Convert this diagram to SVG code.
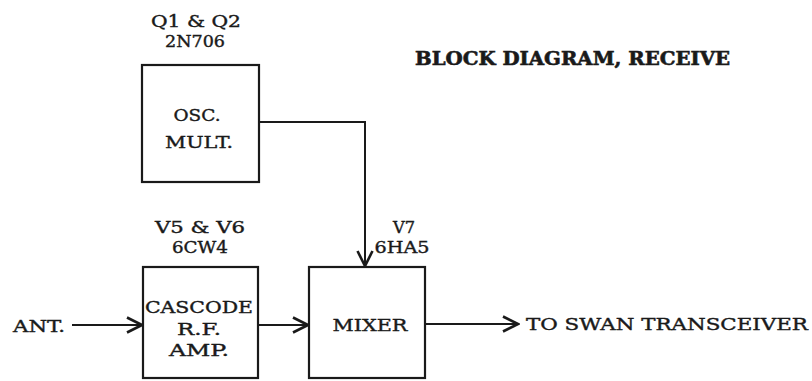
<svg xmlns="http://www.w3.org/2000/svg" width="812" height="381" viewBox="0 0 812 381">
<style>
.box{fill:none;stroke:#1a1a1a;stroke-width:2.2}
.wire{fill:none;stroke:#1a1a1a;stroke-width:2}
text{font-family:"DejaVu Serif","Liberation Serif",serif;fill:#1a1a1a;font-size:17px;stroke:#1a1a1a;stroke-width:0.4}
.c{text-anchor:middle}
.t{font-weight:bold;font-size:18.5px;stroke-width:0.6}
</style>
<defs>
<marker id="ah" markerUnits="userSpaceOnUse" markerWidth="18" markerHeight="18" viewBox="0 0 18 18" refX="16" refY="9" orient="auto">
<path d="M1,1.5 L16,9 L1,16.5" fill="none" stroke="#1a1a1a" stroke-width="2.6" stroke-linejoin="miter"/>
</marker>
</defs>
<rect width="812" height="381" fill="#ffffff"/>
<text class="t" x="415" y="65" textLength="315" lengthAdjust="spacingAndGlyphs">BLOCK DIAGRAM, RECEIVE</text>
<g id="osc">
<rect class="box" x="142" y="65" width="117" height="117"/>
<text class="c" x="196" y="27" textLength="90" lengthAdjust="spacingAndGlyphs">Q1 &amp; Q2</text>
<text class="c" x="195" y="47" textLength="60" lengthAdjust="spacingAndGlyphs">2N706</text>
<text class="c" x="197" y="121" textLength="47" lengthAdjust="spacingAndGlyphs">OSC.</text>
<text class="c" x="199" y="148" textLength="68" lengthAdjust="spacingAndGlyphs">MULT.</text>
</g>
<g id="rfamp">
<rect class="box" x="143" y="267" width="115" height="111"/>
<text class="c" x="200" y="233" textLength="90" lengthAdjust="spacingAndGlyphs">V5 &amp; V6</text>
<text class="c" x="200" y="253" textLength="56" lengthAdjust="spacingAndGlyphs">6CW4</text>
<text class="c" x="199" y="313" textLength="108" lengthAdjust="spacingAndGlyphs">CASCODE</text>
<text class="c" x="199" y="335" textLength="44" lengthAdjust="spacingAndGlyphs">R.F.</text>
<text class="c" x="199" y="356" textLength="60" lengthAdjust="spacingAndGlyphs">AMP.</text>
</g>
<g id="mixer">
<rect class="box" x="309" y="267" width="116" height="111"/>
<text class="c" x="404" y="233" textLength="22" lengthAdjust="spacingAndGlyphs">V7</text>
<text class="c" x="402" y="253" textLength="55" lengthAdjust="spacingAndGlyphs">6HA5</text>
<text class="c" x="370" y="331" textLength="75" lengthAdjust="spacingAndGlyphs">MIXER</text>
</g>
<g id="ant">
<text x="13" y="332" textLength="52" lengthAdjust="spacingAndGlyphs">ANT.</text>
</g>
<g id="out">
<text x="526" y="330" textLength="282" lengthAdjust="spacingAndGlyphs">TO SWAN TRANSCEIVER</text>
</g>
<g id="connectors">
<path class="wire" d="M259,122 H365 V266" marker-end="url(#ah)"/>
<path class="wire" d="M72,325 H142" marker-end="url(#ah)"/>
<path class="wire" d="M258,325 H308" marker-end="url(#ah)"/>
<path class="wire" d="M425,324 H518" marker-end="url(#ah)"/>
</g>
</svg>
